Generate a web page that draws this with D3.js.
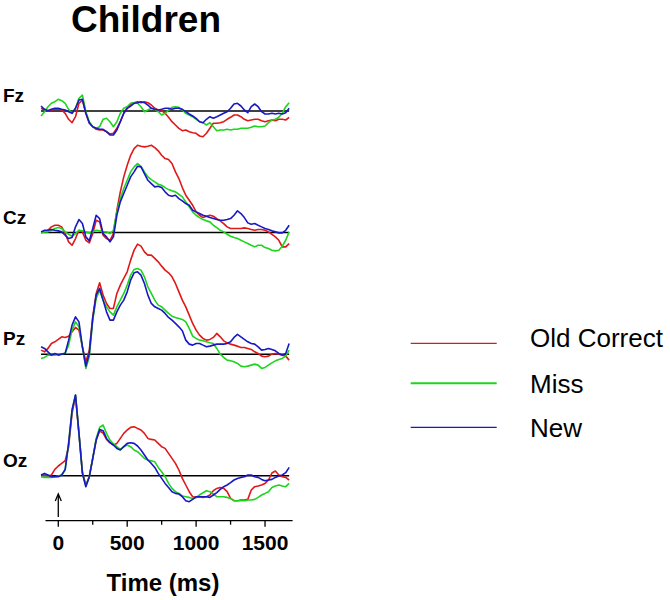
<!DOCTYPE html>
<html>
<head>
<meta charset="utf-8">
<script src="https://cdn.jsdelivr.net/npm/d3@7"></script>
<style>
  body { margin: 0; background: #fff; }
  svg { display: block; }
  text { font-family: "Liberation Sans", Arial, sans-serif; }
</style>
</head>
<body>
<svg id="chart" width="670" height="600"></svg>
<script>
// ---- Data ----
const title = "Children";
const xLabel = "Time (ms)";
const channels = ["Fz", "Cz", "Pz", "Oz"];
const conditions = ["Old Correct", "Miss", "New"];
const colors = ["#e01818", "#1ed41e", "#1818c4"];
const xTicks = [0, 500, 1000, 1500];
const xMinorTicks = [250, 750, 1250];
const times = d3.range(-125, 1676, 25); // ms, 73 samples

// amplitudes (arbitrary units, positive up)
const fzOld = [2.7,1,0.3,1,1.7,1.7,1,-2.3,-8.3,-11.7,-5.7,7.7,11,-2.3,-12.3,-15.7,-18.3,-19,-19,-20.7,-23,-22.3,-17.3,-10.7,-2.3,2.7,7,8.3,9.3,8.3,9.3,8.3,6,2.7,1,0.3,-2.3,-6.3,-10.7,-14,-17.3,-19.7,-19,-20.7,-21.7,-22.3,-25,-25.7,-22.3,-17.3,-12.3,-12.3,-11.7,-10.7,-8.3,-6.3,-4,-4,-5.7,-8.3,-9.7,-9,-8.3,-8.3,-9.7,-10.7,-9.7,-9,-9.7,-8.3,-8.3,-9,-6.3];
const fzMiss = [-5,-0.7,4.3,7.7,9.3,11.7,10.3,7.7,1.7,-2.3,2.7,12.7,16,-0.7,-10.7,-15.7,-17.3,-15.7,-8.3,-7.3,-10.7,-15.7,-10.7,-2.3,2.7,4.3,7.7,8.3,7.7,4.3,-0.7,1,2.7,1.7,-0.7,-4,-2.3,1,3.7,4.3,3.7,1,-2.3,-4,-5.7,-8.3,-10.7,-11.7,-14,-11.7,-15.7,-19.7,-19,-19,-18.3,-19,-18.3,-18.3,-17.3,-17.3,-17.3,-16.3,-15,-15.7,-15.7,-15,-11.7,-9,-8.3,-6.3,-2.3,4.3,8.3];
const fzNew = [5,1.7,0.3,1.7,2.7,2.7,1.7,1,-0.7,-2.3,2.7,11,11.7,-2.3,-11.7,-15.7,-17.3,-18.3,-18.3,-20.7,-24,-24,-19,-10.7,-2.3,2.7,5,7.7,8.3,9.3,8.3,6,2.7,1.7,1,1.7,2.7,2.7,1.7,2.7,2.7,1.7,-0.7,-3,-5,-7.3,-10.7,-11.7,-8.3,-5.7,-7.3,-5.7,-4,-2.3,-0.7,2.7,7,7.7,5,1,-1.7,4.3,7,4.3,-0.7,-3,-3,-2.3,-3,-2.3,-3,-1.7,2.7];

const czOld = [0.7,0.7,2.3,5.7,7.3,7.3,5.7,-1,-9.3,-12.7,-6,2.3,0.7,-7.7,-10.3,-1,12.3,10.7,-2.7,-6,-7.7,-1,22.3,40.7,55.7,67.3,77.3,84,87.3,86.3,85.7,86.3,87.3,85,81.7,77.3,74,73,69,60.7,54,45,37.3,32.3,27.3,20.7,17.3,15,16.3,17.3,16.3,14,11.7,9,5.7,4,4,4,4,4.7,4,3,2.3,3,3,2.3,0.7,-1.7,-4.3,-7.7,-14.3,-14.3,-11];
const czMiss = [-0.3,0.7,0.7,2.3,4,5,4,0.7,-1.7,-3.7,-1,2.3,1.7,0.7,-0.3,0.7,2.3,1.7,0.7,0.7,-1,2.3,20.7,34,44,52.3,60.7,65.7,69,66.3,60.7,55.7,53,50.7,48.3,47.3,45,43,41.7,40.7,38.3,35.7,30.7,25.7,20.7,17.3,15,13,11.7,10.7,7.3,5,2.3,0.7,-1.7,-3.7,-5,-6,-7.7,-9.3,-11,-12.7,-14.3,-12.7,-12.7,-15,-16,-17.7,-18.3,-17.7,-13.7,-7.7,0.7];
const czNew = [0.7,2.3,2.3,3,2.3,1.7,0.7,-2.7,-6,-5,5.7,13,9,-4.3,-8.3,4,17.3,14,-1,-4.3,-9.3,-4.3,17.3,30.7,39,47.3,55.7,60.7,66.3,65.7,59,52.3,49,45.7,46.3,45,40.7,37.3,36.3,37.3,34,31.7,29,27.3,22.3,20.7,19,17.3,16.3,15,14,13,12.3,12.3,13,14,17.3,21.7,19,15,9.7,8.3,9,7.3,5.7,4,3,1.7,0.7,-0.3,-0.3,2.3,7.3];

const pzOld = [4,2.3,5.7,10.7,12.3,14.7,17.3,16.7,18,22.3,26.7,24,7.3,-7.7,4,37.3,60.7,71.3,59,50.7,45.7,45.7,60.7,69,75.7,82.3,94,104,110,108,102.3,99,99,95.7,92.3,88,84,81.3,77.3,70.7,62.3,54,47.3,39,30.7,24,19,15.7,14,14.7,16.7,20.7,17.3,13.3,11.3,10,9,8,6.7,6.7,5.7,4.7,2.3,0.7,-2,-2.7,-2,0,0.7,0,-1,-2,-6];
const pzMiss = [-4.3,-3.3,-1,-1,-1,0,0,1.3,9,24,32.3,27.3,7.3,-14.3,-2.7,34,55.7,64,54,47.3,42.3,39,47.3,54,60.7,69,79,84.7,85.7,84,77.3,67.3,60.7,54,49,47.3,44,40.7,38,36.7,35.7,34.7,32.3,25.7,18,15.7,14,13.3,12.3,11.3,10.7,5.7,0,-3.3,-6,-6.7,-7.7,-9.3,-12,-12.7,-12,-11,-10,-11,-14.3,-13.3,-11,-8.7,-6.7,-5.3,-4.3,-2,4];
const pzNew = [7.3,5.7,2.3,-1,0.7,-1,0,0.7,14,29,37.3,32.3,7.3,-12,0.7,35.7,59,65.7,54,42.3,34,34,42.3,49,54,62.3,74,81.3,82.3,79,70.7,59,50.7,47.3,45.7,44,40.7,36.7,34,30.7,27.3,23.3,14,10,9,10.7,10.7,9,7.3,8,9,10,10,10,10.7,12.3,16.7,19.7,17.3,14.7,12.3,10.7,10,7.3,4,4.7,5.7,4.7,3.3,0.7,-1,0.7,10.7];

const ozOld = [-0.3,0.7,-0.3,0.7,6.3,9.7,12.3,15,29,62.3,79.7,42.3,4,-9.3,-1,17.3,35.7,44.7,42.7,36.3,33,30.7,32.3,37.3,42.3,45.7,48.3,49,47.3,45.7,42.3,37.3,36.3,35.7,32.3,29,27.3,22.3,17.3,12.3,5.7,-2.7,-9.3,-16,-21,-21.7,-21,-21.7,-21,-19.3,-15,-12.7,-11.7,-12.7,-16,-22.7,-25,-25,-24.3,-24.3,-23.7,-14.3,-11,-10.3,-9.3,-7.7,-4.3,2.7,4.7,0.7,-1,-1.7,-4.3];
const ozMiss = [-1,-1.7,-1.7,-1.7,-1,-0.3,0.7,5.7,32.3,65.7,80.7,42.3,2.3,-10.3,-1,17.3,37.3,48.3,50.7,42.3,35.7,31.7,29,26.3,29,30.7,29,25.7,24,20.7,17.3,15.7,15,14,8.3,4,-1,-7.7,-12.7,-16,-17.7,-20.3,-21,-21.7,-22.7,-21.7,-19.3,-17,-15,-16,-18.3,-21,-21,-21,-21.7,-22.7,-25,-25,-25,-25,-24.3,-24.3,-23.7,-21.7,-19.3,-17.7,-16,-11.7,-10.3,-9.3,-10.3,-11,-7.7];
const ozNew = [0.7,2.3,0.7,-1,-1,-1,0.7,6.3,32.3,65.7,80.7,42.3,2.3,-11,-1,17.3,35.7,46.3,45,37.3,33,30.7,27.3,25.7,29,32.3,33,32.3,29.7,25.7,20.7,15.7,12.3,8.3,2.3,-2.7,-7.7,-11.7,-16,-17.7,-18.3,-21,-25,-26,-23.7,-21,-21,-21,-21,-21.7,-19.3,-17,-13.7,-11,-9.3,-7,-4.3,-2.7,-1.7,-1,0.7,0.7,-1,-1.7,-3.7,-5,-4.3,-3.7,-1.7,-0.3,0.7,3,8.3];

const channelData = [
  [fzOld, fzMiss, fzNew],
  [czOld, czMiss, czNew],
  [pzOld, pzMiss, pzNew],
  [ozOld, ozMiss, ozNew]
];

// ---- Layout ----
const svg = d3.select("#chart");
const x = d3.scaleLinear().domain([-100, 1700]).range([44.5, 292.6]);
const yBase = d3.scalePoint().domain(channels).range([111, 475.7]);
const amp = d3.scaleLinear().domain([0, 100]).range([0, -100]);

// title
svg.append("text")
  .attr("x", 146).attr("y", 32)
  .attr("text-anchor", "middle")
  .style("font-size", "37px").style("font-weight", "bold")
  .text(title);

const line = d3.line()
  .x((d, i) => x(times[i]))
  .y(d => d);

channels.forEach((ch, ci) => {
  const base = yBase(ch);
  const g = svg.append("g");
  // channel label
  g.append("text")
    .attr("x", 3).attr("y", base - 9)
    .style("font-size", "19px").style("font-weight", "bold")
    .text(ch);
  // zero line
  g.append("line")
    .attr("x1", x(times[0])).attr("x2", x(times[times.length - 1]))
    .attr("y1", base).attr("y2", base)
    .attr("stroke", "#000").attr("stroke-width", 1.5);
  // waveforms
  channelData[ci].forEach((vals, k) => {
    g.append("path")
      .datum(vals.map(v => base + amp(v)))
      .attr("d", line)
      .attr("fill", "none")
      .attr("stroke", colors[k])
      .attr("stroke-width", 1.6)
      .attr("stroke-linejoin", "round");
  });
});

// x axis
const axisY = 520.7;
const axisG = svg.append("g").attr("transform", `translate(0,${axisY})`);
axisG.append("line")
  .attr("x1", x.range()[0] + 1).attr("x2", x.range()[1])
  .attr("stroke", "#000").attr("stroke-width", 1.3);
axisG.selectAll(".major").data(xTicks).enter().append("line")
  .attr("x1", d => x(d)).attr("x2", d => x(d))
  .attr("y1", 0).attr("y2", 6)
  .attr("stroke", "#000").attr("stroke-width", 1.3);
axisG.selectAll(".minor").data(xMinorTicks).enter().append("line")
  .attr("x1", d => x(d)).attr("x2", d => x(d))
  .attr("y1", 0).attr("y2", 4)
  .attr("stroke", "#000").attr("stroke-width", 1.3);
axisG.selectAll(".lbl").data(xTicks).enter().append("text")
  .attr("x", d => x(d)).attr("y", 29.5)
  .attr("text-anchor", "middle")
  .style("font-size", "21px").style("font-weight", "bold")
  .text(d => d);

svg.append("text")
  .attr("x", 163).attr("y", 591)
  .attr("text-anchor", "middle")
  .style("font-size", "24px").style("font-weight", "bold")
  .text(xLabel);

// stimulus onset arrow
const ax = x(0);
svg.append("line")
  .attr("x1", ax).attr("x2", ax).attr("y1", 517).attr("y2", 496)
  .attr("stroke", "#000").attr("stroke-width", 1.3);
svg.append("path")
  .attr("d", `M${ax - 3},${501} L${ax},${494} L${ax + 3},${501}`)
  .attr("fill", "none").attr("stroke", "#000").attr("stroke-width", 1.3);

// legend
const legY = [343.3, 383.3, 427.3];
const leg = svg.append("g");
conditions.forEach((c, k) => {
  leg.append("line")
    .attr("x1", 410.7).attr("x2", 496.7)
    .attr("y1", legY[k]).attr("y2", legY[k])
    .attr("stroke", colors[k]).attr("stroke-width", k === 1 ? 2 : 1.3);
  leg.append("text")
    .attr("x", 530).attr("y", legY[k] + 4 + (k === 0 ? 0 : 5.5))
    .style("font-size", "26px")
    .text(c);
});
</script>
</body>
</html>
